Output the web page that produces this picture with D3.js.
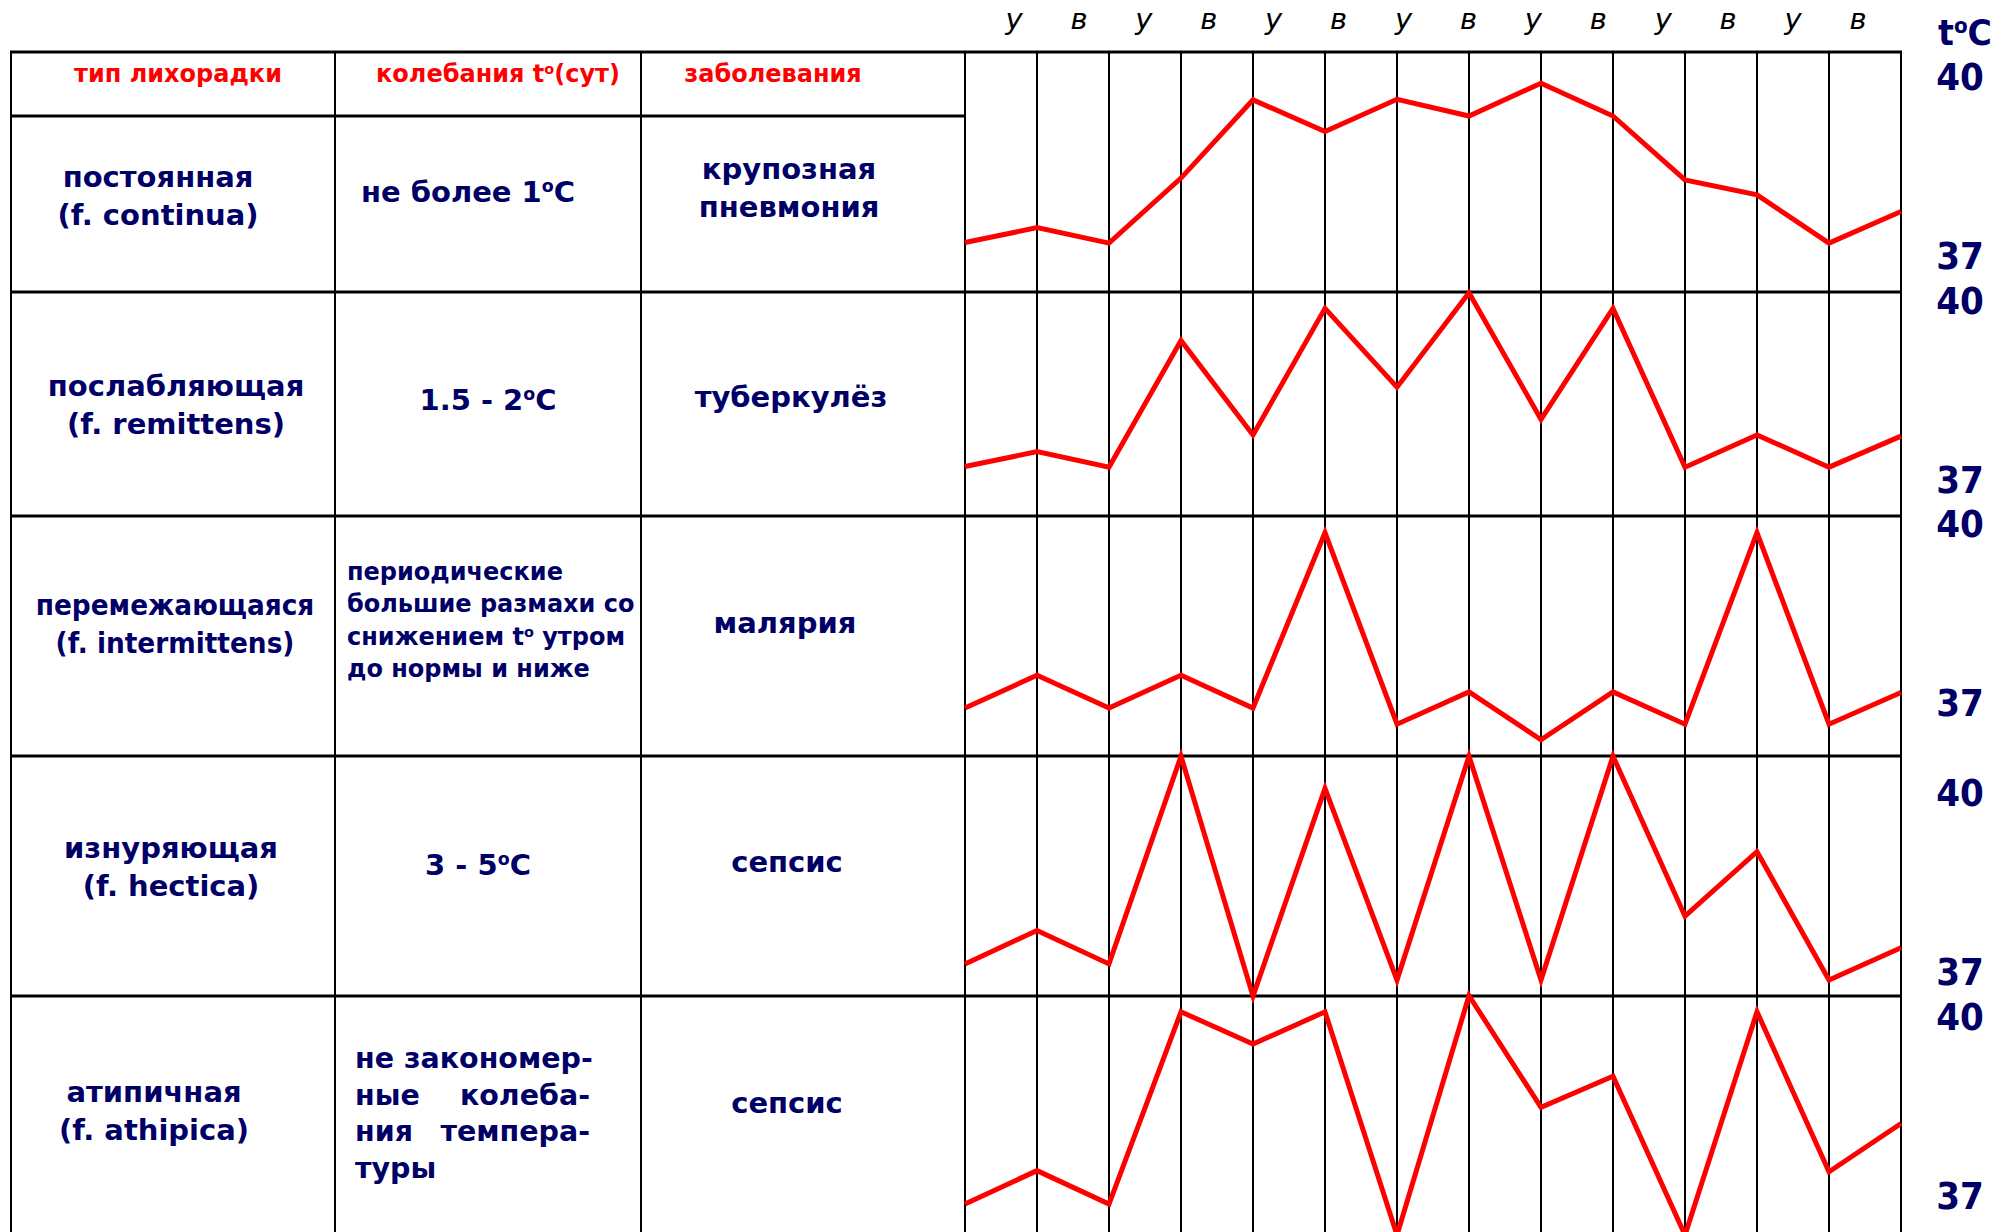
<!DOCTYPE html>
<html><head><meta charset="utf-8">
<script src="https://cdn.jsdelivr.net/npm/d3@7"></script>
<style>html,body{margin:0;padding:0;background:#fff;overflow:hidden}svg{display:block}</style>
</head><body>
<svg id="chart" width="2012" height="1232"></svg>
<script>
// ---------- data ----------
const timeLabels = ["у","в","у","в","у","в","у","в","у","в","у","в","у","в"];
const headers = ["тип лихорадки", "колебания t°(сут)", "заболевания"];
const feverTypes = ["постоянная", "послабляющая", "перемежающаяся", "изнуряющая", "атипичная"];
const latinNames = ["(f. continua)", "(f. remittens)", "(f. intermittens)", "(f. hectica)", "(f. athipica)"];
const fluctuations = [["не более 1°C"], ["1.5 - 2°C"],
  ["периодические", "большие размахи со", "снижением t° утром", "до нормы и ниже"],
  ["3 - 5°C"],
  [["не закономер-"], ["ные", "колеба-"], ["ния", "темпера-"], ["туры"]]];
const diseases = [["крупозная", "пневмония"], ["туберкулёз"], ["малярия"], ["сепсис"], ["сепсис"]];
const tempTicks = [40, 37];
const unitLabel = "t°C";

// temperatures (°C), morning / evening, 7 days
const continua     = [37.21, 37.46, 37.20, 38.29, 39.60, 39.07, 39.61, 39.33, 39.88, 39.33, 38.26, 38.01, 37.20, 37.73];
const remittens    = [37.21, 37.46, 37.20, 39.32, 37.74, 39.86, 38.54, 40.12, 38.00, 39.86, 37.20, 37.74, 37.20, 37.72];
const intermittens = [36.90, 37.45, 36.90, 37.45, 36.90, 39.84, 36.63, 37.17, 36.37, 37.17, 36.63, 39.84, 36.63, 37.16];
const hectica      = [37.12, 37.68, 37.12, 40.60, 36.58, 40.06, 36.85, 40.60, 36.85, 40.60, 37.92, 39.00, 36.85, 37.39];
const athipica     = [36.85, 37.41, 36.85, 40.07, 39.53, 40.07, 36.33, 40.34, 38.47, 38.99, 36.33, 40.07, 37.39, 38.20];
const series = [continua, remittens, intermittens, hectica, athipica];

// ---------- layout ----------
const W = 2012, H = 1232;
const navy = "#000066", red = "#ff0000";
const FONT = "'DejaVu Sans', Verdana, sans-serif";
const colX = [11, 335, 641, 965];         // table column borders
const chartRight = 1901;
const tableTop = 52, headerBottom = 116;
const rowBottoms = [292, 516, 756, 996, 1240];
const y40px = [76, 300, 523, 792, 1016];  // pixel of 40 °C in each panel
const pxPerDeg = 59.7;

const svg = d3.select("#chart");

const x = d3.scalePoint().domain(d3.range(timeLabels.length)).range([colX[3], chartRight]);
const xLab = d3.scalePoint().domain(d3.range(timeLabels.length)).range([1014, 1858]);
const yScales = y40px.map(p => d3.scaleLinear().domain([37, 40]).range([p + 3 * pxPerDeg, p]));

// ---------- grid ----------
const g = svg.append("g");
g.selectAll("line.vg").data(x.domain()).join("line")
  .attr("x1", d => x(d)).attr("x2", d => x(d))
  .attr("y1", tableTop).attr("y2", H + 10)
  .attr("stroke", "#000").attr("stroke-width", 2);
g.selectAll("line.cb").data(colX).join("line")
  .attr("x1", d => d).attr("x2", d => d)
  .attr("y1", tableTop).attr("y2", H + 10)
  .attr("stroke", "#000").attr("stroke-width", 2);
g.append("line").attr("x1", colX[0] - 1).attr("x2", chartRight + 1).attr("y1", tableTop).attr("y2", tableTop)
  .attr("stroke", "#000").attr("stroke-width", 3);
g.append("line").attr("x1", colX[0] - 1).attr("x2", colX[3]).attr("y1", headerBottom).attr("y2", headerBottom)
  .attr("stroke", "#000").attr("stroke-width", 3);
g.selectAll("line.hb").data(rowBottoms.slice(0, 4)).join("line")
  .attr("x1", colX[0] - 1).attr("x2", chartRight + 1).attr("y1", d => d).attr("y2", d => d)
  .attr("stroke", "#000").attr("stroke-width", 3);

// ---------- time-of-day labels ----------
svg.append("g").selectAll("text").data(timeLabels).join("text")
  .attr("x", (d, i) => xLab(i)).attr("y", 29)
  .attr("text-anchor", "middle")
  .attr("font-family", FONT).attr("font-style", "italic").attr("font-size", 29)
  .attr("fill", "#000").text(d => d);

// helper for degree-superscript text
function degText(sel, str) {
  const parts = str.split("°");
  sel.text(null);
  parts.forEach((p, i) => {
    if (i > 0) sel.append("tspan").attr("baseline-shift", "super").attr("font-size", "0.6em").text("o");
    if (p) sel.append("tspan").text(p);
  });
}
// helper: text placed at (tx,ty) with horizontal squeeze sx
function addText(str, tx, ty, opts) {
  const o = Object.assign({size: 29, color: navy, anchor: "middle", sx: 1, weight: "bold"}, opts || {});
  return svg.append("text")
    .attr("transform", `translate(${tx},${ty}) scale(${o.sx},1)`)
    .attr("text-anchor", o.anchor)
    .attr("font-family", FONT).attr("font-weight", o.weight).attr("font-size", o.size)
    .attr("fill", o.color).call(s => degText(s, str));
}

// ---------- header ----------
const headerX = [178, 498, 773];
headers.forEach((h, i) => addText(h, headerX[i], 82, {size: 24, color: red}));

// ---------- rows ----------
const col1X = [158, 176, 175, 171, 154];
const col1Y = [187, 396, 615, 858, 1102];
const col1Squeeze = [1, 1, 0.91, 1, 1];
const lineGap = 37.5;
feverTypes.forEach((t, i) => {
  addText(t, col1X[i], col1Y[i], {sx: col1Squeeze[i]});
  addText(latinNames[i], col1X[i], col1Y[i] + lineGap, {sx: col1Squeeze[i]});
});

// column 2
const col2X = [468, 488, 347, 478, 355];
const col2Y = [202, 410, 580, 875, 1068];
fluctuations.forEach((f, i) => {
  if (i === 2) {
    f.forEach((ln, k) => addText(ln, col2X[i], col2Y[i] + k * 32.3, {size: 24, anchor: "start"}));
  } else if (i === 4) {
    const right = 590;
    f.forEach((words, k) => {
      const yy = col2Y[i] + k * 36.5;
      addText(words[0], col2X[i], yy, {size: 28.5, anchor: "start"});
      if (words.length > 1) addText(words[1], right, yy, {size: 28.5, anchor: "end"});
    });
  } else {
    addText(f[0], col2X[i], col2Y[i]);
  }
});

// column 3
const col3X = [789, 791, 785, 787, 787];
const col3Y = [179, 407, 633, 872, 1113];
diseases.forEach((d, i) => {
  d.forEach((ln, k) => addText(ln, col3X[i], col3Y[i] + k * 38));
});

// ---------- temperature curves ----------
const line = d3.line().x((d, i) => x(i));
series.forEach((s, i) => {
  svg.append("path").datum(s)
    .attr("d", line.y(d => yScales[i](d)))
    .attr("fill", "none").attr("stroke", red).attr("stroke-width", 5)
    .attr("stroke-linejoin", "miter").attr("stroke-miterlimit", 4);
});

// ---------- right axis labels ----------
yScales.forEach(ys => {
  tempTicks.forEach(t => addText(String(t), 1960, ys(t) + 14, {size: 38, sx: 0.9}));
});
addText(unitLabel, 1965, 45, {size: 35, sx: 0.95});
</script>
</body></html>
